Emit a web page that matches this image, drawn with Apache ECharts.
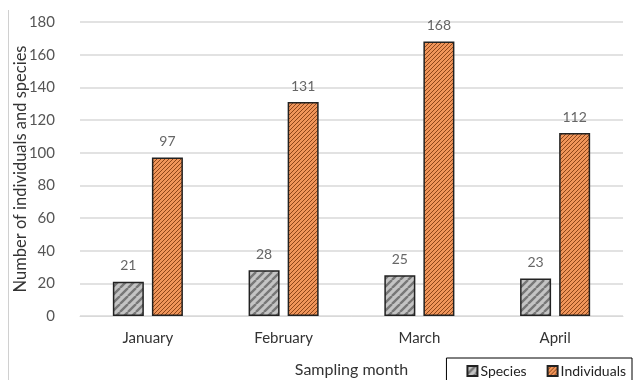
<!DOCTYPE html>
<html>
<head>
    <meta charset="utf-8">
    <title>Species and individuals</title>
    <script src="https://cdn.jsdelivr.net/npm/echarts@6/dist/echarts.min.js"></script>
</head>
<body style="margin:0;background:#fff">
<div id="main" style="width:635px;height:380px;"></div>
<script type="text/javascript">
    // data
    var months = ['January', 'February', 'March', 'April'];
    var species = [21, 28, 25, 23];
    var individuals = [97, 131, 168, 112];

    // hatch patterns drawn on little canvases
    function hatch(bg, line, size, width) {
        var c = document.createElement('canvas');
        c.width = size; c.height = size;
        var ctx = c.getContext('2d');
        ctx.fillStyle = bg;
        ctx.fillRect(0, 0, size, size);
        ctx.strokeStyle = line;
        ctx.lineWidth = width;
        ctx.beginPath();
        // "/" stripes, tiled
        for (var k = -1; k <= 1; k++) {
            ctx.moveTo(k * size, size);
            ctx.lineTo(k * size + size, 0);
        }
        ctx.stroke();
        return c;
    }
    var grayPat = hatch('#c4c4c4', '#777777', 8, 2.4);
    var orangePat = hatch('#f0955a', '#8e4619', 4, 1.0);

    var font = 'Lato, "Open Sans", sans-serif';
    var myChart = echarts.init(document.getElementById('main'));
    var option = {
        animation: false,
        textStyle: {fontFamily: font},
        grid: {left: 80, right: 12, top: 22, bottom: 64, outerBoundsMode: 'none', containLabel: false},
        graphic: [{
            type: 'line', shape: {x1: 8.5, y1: 10, x2: 8.5, y2: 380},
            style: {stroke: '#d0d0d0', lineWidth: 1}
        }],
        legend: {
            right: 3, bottom: -6,
            icon: 'rect',
            itemWidth: 10, itemHeight: 10, itemGap: 20,
            padding: [6, 6, 8, 20],
            borderColor: '#000', borderWidth: 1,
            textStyle: {fontFamily: font, fontSize: 14, color: '#222', padding: [0, 0, 0, -2]},
            data: ['Species', 'Individuals']
        },
        xAxis: {
            type: 'category',
            data: months,
            name: 'Sampling month',
            nameLocation: 'middle',
            nameGap: 46,
            nameMoveOverlap: false,
            nameTextStyle: {fontSize: 16, color: '#333'},
            axisLine: {lineStyle: {color: '#d9d9d9', width: 1}},
            axisTick: {show: false},
            axisLabel: {fontSize: 15, color: '#333', margin: 15}
        },
        yAxis: {
            type: 'value',
            min: 0, max: 180, interval: 20,
            name: 'Number of individuals and species',
            nameLocation: 'middle',
            nameGap: 51,
            nameMoveOverlap: false,
            nameTextStyle: {fontSize: 16.5, color: '#333'},
            axisLabel: {fontSize: 15, color: '#555', margin: 25},
            splitLine: {lineStyle: {color: '#d9d9d9', width: 1.5}}
        },
        series: [{
            name: 'Species',
            type: 'bar',
            data: species,
            barWidth: 31,
            barGap: '26%',
            itemStyle: {color: {image: grayPat, repeat: 'repeat'}, borderColor: '#222', borderWidth: 1.5},
            label: {show: true, position: 'top', distance: 9, fontSize: 14, color: '#666'}
        }, {
            name: 'Individuals',
            type: 'bar',
            data: individuals,
            barWidth: 31,
            itemStyle: {color: {image: orangePat, repeat: 'repeat'}, borderColor: '#222', borderWidth: 1.5},
            label: {show: true, position: 'top', distance: 9, fontSize: 14, color: '#666'}
        }]
    };
    myChart.setOption(option);
</script>
</body>
</html>
